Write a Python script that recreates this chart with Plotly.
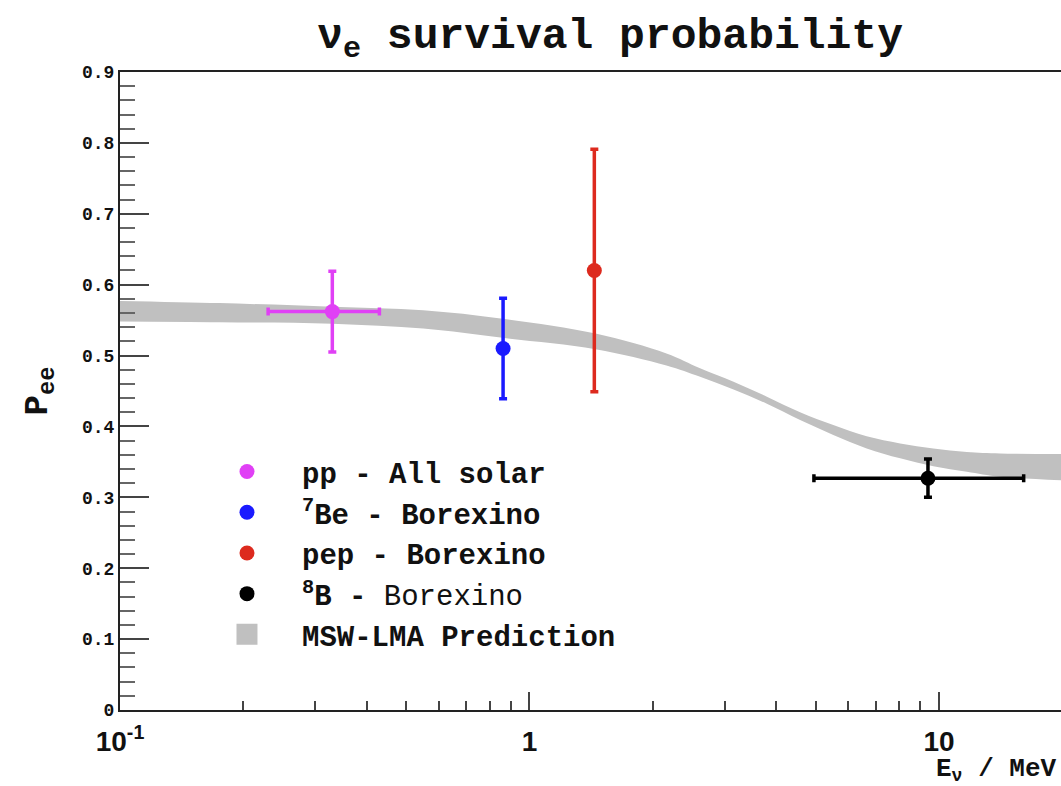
import plotly.graph_objects as go

# MSW-LMA prediction band: neutrino energy (MeV) with lower / upper Pee edges
band_energy = [0.1, 0.175, 0.33, 0.55, 0.86, 1.45, 2.16, 2.61, 3.15, 3.80,
               4.58, 5.52, 6.66, 8.04, 9.69, 11.7, 14.1, 20.0]
band_low = [0.548, 0.547, 0.545, 0.538, 0.525, 0.509, 0.486, 0.470, 0.452, 0.432,
            0.409, 0.388, 0.369, 0.355, 0.344, 0.336, 0.329, 0.324]
band_high = [0.577, 0.574, 0.569, 0.564, 0.552, 0.531, 0.503, 0.482, 0.463, 0.442,
             0.420, 0.402, 0.386, 0.376, 0.369, 0.364, 0.362, 0.361]

# Measurements: energy, energy error (minus, plus), Pee, Pee error
pp_energy, pp_e_minus, pp_e_plus = [0.33], [0.10], [0.10]
pp_pee, pp_pee_err = [0.562], [0.057]

be7_energy = [0.862]
be7_pee, be7_pee_err = [0.51], [0.071]

pep_energy = [1.44]
pep_pee, pep_pee_err = [0.62], [0.171]

b8_energy, b8_e_minus, b8_e_plus = [9.4], [4.45], [6.7]
b8_pee, b8_pee_err = [0.327], [0.027]

x_tick_vals = [0.1, 1, 10]
x_tick_text = ["10<sup>-1</sup>", "1", "10"]
x_minor_vals = [0.2, 0.3, 0.4, 0.5, 0.6, 0.7, 0.8, 0.9,
                2, 3, 4, 5, 6, 7, 8, 9, 20]

MONO = "Courier New, Liberation Mono, monospace"
BAND = "#c0c0c0"

fig = go.Figure()

# prediction band (lower edge, then upper edge filled down to it)
fig.add_trace(go.Scatter(x=band_energy, y=band_low, mode="lines",
                         line=dict(width=0, color=BAND, shape="spline"),
                         showlegend=False, hoverinfo="skip"))
fig.add_trace(go.Scatter(x=band_energy, y=band_high, mode="lines",
                         line=dict(width=0, color=BAND, shape="spline"),
                         fill="tonexty", fillcolor=BAND,
                         showlegend=False, hoverinfo="skip"))


def point(x, y, yerr, color, name, xminus=None, xplus=None):
    err_x = None
    if xminus is not None:
        err_x = dict(type="data", symmetric=False, array=xplus, arrayminus=xminus,
                     color=color, thickness=3.5, width=4)
    return go.Scatter(
        x=x, y=y, mode="markers", name=name,
        marker=dict(color=color, size=15, symbol="circle"),
        error_y=dict(type="data", array=yerr, color=color, thickness=3.5, width=4),
        error_x=err_x,
    )


fig.add_trace(point(pp_energy, pp_pee, pp_pee_err, "#e040f5",
                    "<b>pp - All solar</b>", pp_e_minus, pp_e_plus))
fig.add_trace(point(be7_energy, be7_pee, be7_pee_err, "#1a1aff",
                    "<b><sup>7</sup>Be - Borexino</b>"))
fig.add_trace(point(pep_energy, pep_pee, pep_pee_err, "#dd2a1e",
                    "<b>pep - Borexino</b>"))
fig.add_trace(point(b8_energy, b8_pee, b8_pee_err, "#000000",
                    "<b><sup>8</sup>B - </b>Borexino", b8_e_minus, b8_e_plus))

# legend entry for the prediction band
fig.add_trace(go.Scatter(x=[None], y=[None], mode="markers",
                         name="<b>MSW-LMA Prediction</b>",
                         marker=dict(symbol="square", size=16, color=BAND,
                                     line=dict(color=BAND, width=5))))

fig.update_layout(
    width=1061, height=786,
    margin=dict(l=120, r=0, t=72, b=76),
    plot_bgcolor="white", paper_bgcolor="white",
    title=dict(text="<b>ν<sub>e</sub> survival probability</b>",
               x=0.575, xanchor="center", y=0.958, yanchor="middle",
               font=dict(family=MONO, size=43, color="#111")),
    legend=dict(x=0.0765, y=0.4135, xanchor="left", yanchor="top",
                bgcolor="rgba(0,0,0,0)", traceorder="normal",
                font=dict(family=MONO, size=29, color="#111"),
                itemwidth=100, tracegroupgap=0),
    xaxis=dict(type="log", range=[-1, 1.298],
               showline=True, linecolor="#222", linewidth=2, mirror=True,
               showgrid=False, zeroline=False,
               ticks="inside", ticklen=18, tickwidth=1.5, tickcolor="#444",
               tickvals=x_tick_vals, ticktext=x_tick_text,
               ticklabelstandoff=5,
               tickfont=dict(family="Arial", size=28, color="#111", weight="bold"),
               minor=dict(ticks="inside", ticklen=9, tickwidth=1.5,
                          tickcolor="#444", tickvals=x_minor_vals)),
    yaxis=dict(range=[0, 0.9], dtick=0.1, tick0=0,
               showline=True, linecolor="#222", linewidth=2, mirror=False,
               showgrid=False, zeroline=False,
               ticks="inside", ticklen=29, tickwidth=1.5, tickcolor="#444",
               tickfont=dict(family=MONO, size=18, color="#111", weight="bold"),
               minor=dict(ticks="inside", ticklen=15, tickwidth=1.5,
                          tickcolor="#666", dtick=0.02),
               title=dict(text="<b>P<sub>ee</sub></b>", standoff=24,
                          font=dict(family=MONO, size=34, color="#111"))),
    annotations=[dict(text="<b>E<sub>ν</sub> / MeV</b>", xref="paper", yref="paper",
                      x=1.0, y=-0.094, xanchor="right", yanchor="middle",
                      xshift=-2, showarrow=False,
                      font=dict(family=MONO, size=26, color="#111"))],
)

fig.write_html("out.html")
